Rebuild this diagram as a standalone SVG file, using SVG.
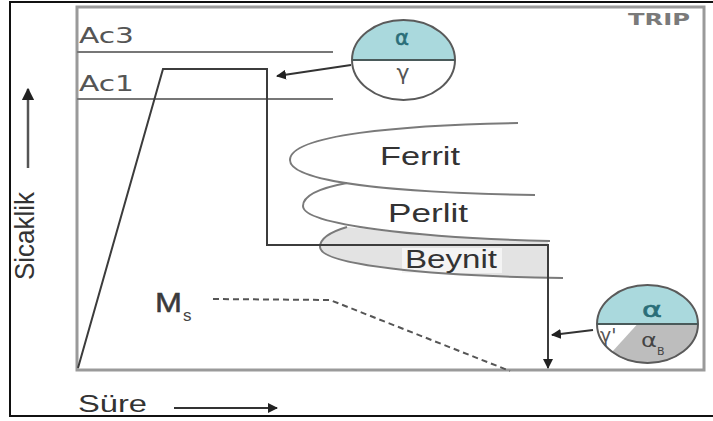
<svg xmlns="http://www.w3.org/2000/svg" width="713" height="421" viewBox="0 0 713 421">
<style>
.lbl{font-family:"Liberation Sans",Arial,sans-serif;fill:#333}
.dv{font-family:"DejaVu Sans",sans-serif;fill:#555}
.gr{font-family:"DejaVu Sans",sans-serif}
.curve{fill:none;stroke:#7a7a7a;stroke-width:2}
.path{fill:none;stroke:#3c3c3c;stroke-width:2}
.ell{stroke:#5a5a5a;stroke-width:2}
</style>
<defs>
<marker id="ah" viewBox="0 0 10 10" refX="9" refY="5" markerWidth="5" markerHeight="5" orient="auto" markerUnits="strokeWidth">
<path d="M0,0 L10,5 L0,10 Z" fill="#222"/>
</marker>
</defs>
<rect x="0" y="0" width="713" height="421" fill="#fff"/>
<rect x="10" y="2" width="712" height="414" fill="none" stroke="#111" stroke-width="2"/>
<rect id="frame" x="77" y="7" width="627" height="363" fill="none" stroke="#9a9a9a" stroke-width="3"/>

<g id="ac3">
<line x1="77" y1="52" x2="333" y2="52" stroke="#777" stroke-width="2"/>
<text class="dv" x="79" y="43" font-size="21" textLength="55" lengthAdjust="spacingAndGlyphs">Ac3</text>
</g>
<g id="ac1">
<line x1="77" y1="99" x2="333" y2="99" stroke="#777" stroke-width="2"/>
<text class="dv" x="79" y="91" font-size="21" textLength="55" lengthAdjust="spacingAndGlyphs">Ac1</text>
</g>
<g id="trip">
<text class="dv" x="628" y="25" font-size="15" font-weight="600" style="fill:#7a7a7a" textLength="62" lengthAdjust="spacingAndGlyphs">TRIP</text>
</g>

<g id="beynit-fill">
<path d="M347,227 C330,232 320,238 320,247 C320,265 430,276 548,277.5 L548,241 Q420,236 347,227 Z" fill="#e3e3e3"/>
<rect x="402" y="248" width="100" height="25" fill="#f4f4f4"/>
</g>

<g id="ferrit">
<path class="curve" d="M518,123 C400,125 290,135 290,160 C290,185 420,193 535,195"/>
<text class="lbl" x="380" y="165" font-size="25" textLength="80" lengthAdjust="spacingAndGlyphs">Ferrit</text>
</g>
<g id="perlit">
<path class="curve" d="M347,183 C320,188 303,195 303,206 C303,225 420,238 550,241"/>
<text class="lbl" x="388" y="222" font-size="25" textLength="80" lengthAdjust="spacingAndGlyphs">Perlit</text>
</g>
<g id="beynit">
<path class="curve" d="M347,227 C330,232 320,238 320,247 C320,265 430,276 563,278"/>
<text class="lbl" x="405" y="268" font-size="25" textLength="92" lengthAdjust="spacingAndGlyphs">Beynit</text>
</g>

<g id="ms">
<path d="M213,299 L330,300 L510,371" fill="none" stroke="#555" stroke-width="2" stroke-dasharray="6,4"/>
<text class="lbl" x="155" y="312" font-size="28" textLength="27" lengthAdjust="spacingAndGlyphs" style="fill:#3a3a3a;stroke:#3a3a3a;stroke-width:0.5">M</text>
<text class="lbl" x="183" y="321" font-size="17" style="fill:#444">s</text>
</g>

<g id="connectors">
<path class="path" d="M78,368 L163,69 L267,69 L267,245 L548,245 L548,368" marker-end="url(#ah)"/>
<line x1="351" y1="65" x2="277" y2="76" stroke="#333" stroke-width="2" marker-end="url(#ah)"/>
<line x1="593" y1="330" x2="552" y2="335" stroke="#333" stroke-width="2" marker-end="url(#ah)"/>
<line x1="28" y1="168" x2="28" y2="89" stroke="#555" stroke-width="2.5" marker-end="url(#ah)"/>
<line x1="174" y1="408" x2="277" y2="408" stroke="#333" stroke-width="2" marker-end="url(#ah)"/>
</g>

<g id="circle-top">
<path d="M352,60 A51.5,40 0 0 1 455,60 Z" fill="#aad9dd"/>
<ellipse class="ell" cx="403.5" cy="60" rx="51.5" ry="40" fill="none"/>
<line x1="352" y1="60" x2="455" y2="60" stroke="#4a5a5a" stroke-width="2"/>
<text class="gr" x="395" y="45" font-size="22" textLength="14" lengthAdjust="spacingAndGlyphs" fill="#2a6e78" stroke="#2a6e78" stroke-width="0.6">α</text>
<text class="gr" x="403" y="80" font-size="22" text-anchor="middle" fill="#555">γ</text>
</g>

<g id="circle-bottom">
<path d="M597,324 A50.5,39 0 0 1 698,324 Z" fill="#aad9dd"/>
<path d="M636,324 L698,324 A50.5,39 0 0 1 611,351.5 Z" fill="#bdbdbd"/>
<line x1="636" y1="324" x2="611" y2="351.5" stroke="#fff" stroke-width="2"/>
<ellipse class="ell" cx="647.5" cy="324" rx="50.5" ry="39" fill="none"/>
<line x1="597" y1="324" x2="698" y2="324" stroke="#4a5a5a" stroke-width="2"/>
<text class="gr" x="642" y="317" font-size="22" textLength="20" lengthAdjust="spacingAndGlyphs" fill="#2a6e78" stroke="#2a6e78" stroke-width="0.6">α</text>
<text class="gr" x="600" y="342" font-size="19" fill="#555">γ'</text>
<text class="gr" x="641" y="347" font-size="20" textLength="16" lengthAdjust="spacingAndGlyphs" fill="#444">α</text>
<text class="gr" x="657" y="355" font-size="11" fill="#444">B</text>
</g>

<g id="axis-labels">
<text class="lbl" x="78" y="412" font-size="24" textLength="69" lengthAdjust="spacingAndGlyphs">Süre</text>
<text class="lbl" transform="translate(34,280) scale(1.3,1) rotate(-90)" x="0" y="0" font-size="21" textLength="88" lengthAdjust="spacingAndGlyphs">Sicaklik</text>
</g>
</svg>
